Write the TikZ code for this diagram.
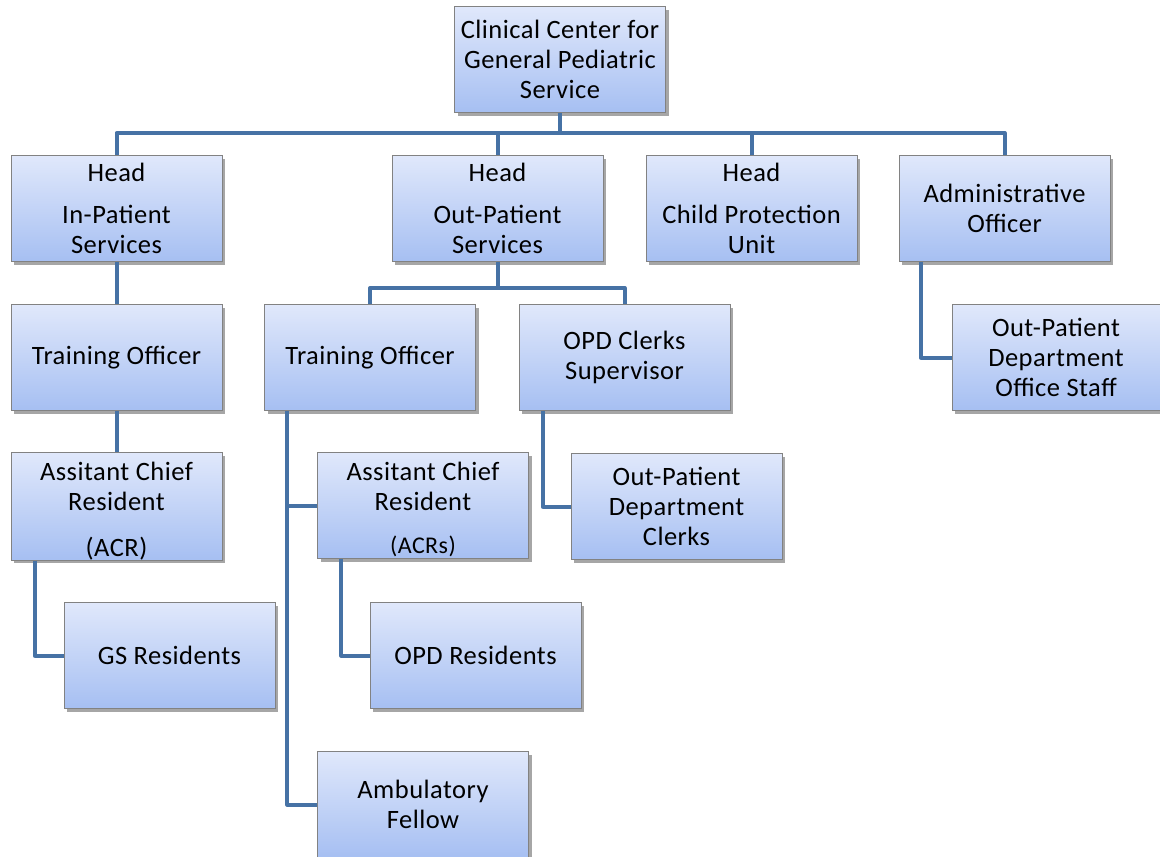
\documentclass[tikz,border=0pt]{standalone}
\usepackage{fontspec}
\setmainfont{Carlito}[LetterSpace=1.8]
\usetikzlibrary{shadows,calc}
\definecolor{linec}{RGB}{70,114,165}
\definecolor{topc}{RGB}{224,232,251}
\definecolor{botc}{RGB}{166,191,242}
\definecolor{edgec}{RGB}{130,130,130}
\tikzset{
  orgbox/.style={rectangle, draw=edgec, line width=0.8pt, top color=topc, bottom color=botc,
    minimum width=211pt, minimum height=106pt, inner sep=0pt, align=center,
    font=\fontsize{26.5}{30}\selectfont,
    drop shadow={shadow xshift=3pt, shadow yshift=-3pt, fill=black, opacity=0.35}},
  conn/.style={draw=linec, line width=4pt, line cap=butt, line join=round}
}
\begin{document}
\begin{tikzpicture}[x=1pt,y=-1pt]
\useasboundingbox (0,0) rectangle (1160,857);
\coordinate (bus) at (0,133);
\coordinate (ob) at (0,288);
% boxes
\node[orgbox] (root) at (560,59.5) {Clinical Center for\\General Pediatric\\Service};
\node[orgbox] (h1) at (116.5,208.5) {Head\\[12pt]In-Patient\\Services};
\node[orgbox] (h2) at (497.5,208.5) {Head\\[12pt]Out-Patient\\Services};
\node[orgbox] (h3) at (751.5,208.5) {Head\\[12pt]Child Protection\\Unit};
\node[orgbox] (h4) at (1004.5,208.5) {Administrative\\Officer};
\node[orgbox] (t1) at (116.5,357.5) {Training Officer};
\node[orgbox] (t2) at (370,357.5) {Training Officer};
\node[orgbox] (sup) at (624.5,357.5) {OPD Clerks\\Supervisor};
\node[orgbox, minimum width=208pt] (staff) at (1056,357.5) {Out-Patient\\Department\\Office Staff};
\node[orgbox] (a1) at (116.5,506.5) {\rule{0pt}{28pt}Assitant Chief\\Resident\\[16pt](ACR)};
\node[orgbox] (a2) at (423,505.5) {\rule{0pt}{26pt}Assitant Chief\\Resident\\[13pt]{\fontsize{24}{26}\selectfont(ACRs)}};
\node[orgbox] (clerks) at (676.5,506.5) {Out-Patient\\Department\\Clerks};
\node[orgbox] (gs) at (169.5,655.5) {GS Residents};
\node[orgbox] (opdr) at (475.5,655.5) {OPD Residents};
\node[orgbox] (amb) at (423,804.5) {Ambulatory\\Fellow};
% connectors
\begin{scope}[conn]
\draw (h1.north) -- (h1.north |- bus) -- (h4.north |- bus) -- (h4.north);
\draw (root.south) -- (root.south |- bus);
\draw (h2.north) -- (h2.north |- bus);
\draw (h3.north) -- (h3.north |- bus);
\draw (h2.south) -- (h2.south |- ob);
\draw (t2.north) -- (t2.north |- ob) -- (sup.north |- ob) -- (sup.north);
\draw (h1.south) -- (t1.north);
\draw (t1.south) -- (a1.north);
\draw ([xshift=23pt]t2.south west) |- (amb.west);
\draw ([xshift=23pt]t2.south west |- a2.west) -- (a2.west);
\draw ([xshift=24pt]a1.south west) |- (gs.west);
\draw ([xshift=24pt]a2.south west) |- (opdr.west);
\draw ([xshift=24pt]sup.south west) |- (clerks.west);
\draw ([xshift=22pt]h4.south west) |- (staff.west);
\end{scope}
\end{tikzpicture}
\end{document}
